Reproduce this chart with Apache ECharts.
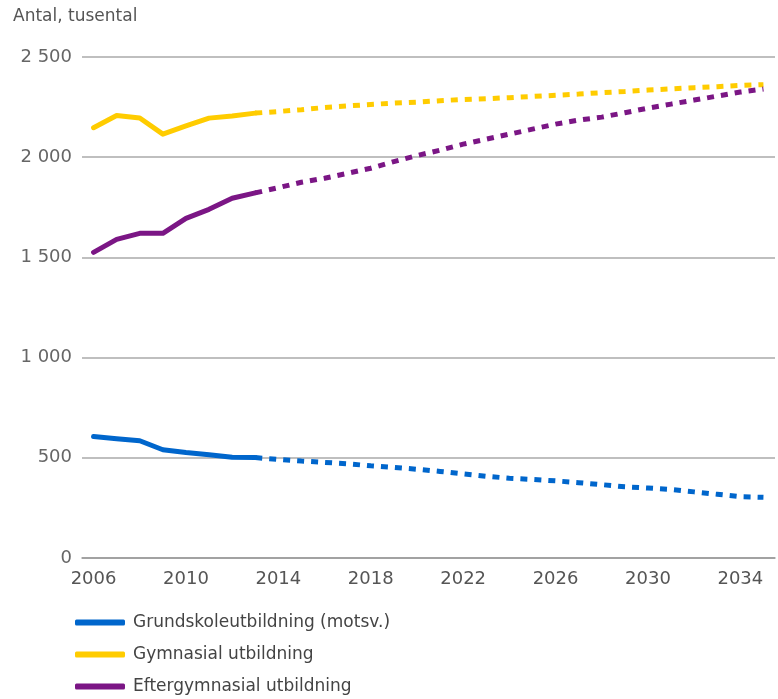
<!DOCTYPE html>
<html>
<head>
<meta charset="utf-8">
<script src="https://cdn.jsdelivr.net/npm/echarts@6/dist/echarts.min.js"></script>
<style>
html,body{margin:0;padding:0;background:#fff;}
#chart{width:778px;height:699px;}
</style>
</head>
<body>
<div id="chart"></div>
<script>
var years = [];
for (var y = 2006; y <= 2035; y++) { years.push(String(y)); }

var seriesNames = ['Grundskoleutbildning (motsv.)', 'Gymnasial utbildning', 'Eftergymnasial utbildning'];
var yTicks = [0, 500, 1000, 1500, 2000, 2500];

// Outcome 2006-2013
var grundUtfall = [606, 595, 585, 540, 526, 515, 503, 501];
var gymUtfall = [2147, 2208, 2196, 2115, 2156, 2195, 2206, 2220];
var efterUtfall = [1525, 1590, 1620, 1620, 1695, 1740, 1795, 1822];

// Projection 2013-2035
var grundPrognos = [501, 492, 484, 477, 470, 460, 452, 443, 432, 420, 408, 398, 392, 385, 376, 366, 355, 349, 342, 330, 318, 306, 303];
var gymPrognos = [2220, 2228, 2237, 2248, 2256, 2263, 2270, 2275, 2282, 2288, 2292, 2297, 2303, 2309, 2315, 2322, 2328, 2335, 2341, 2347, 2352, 2358, 2362];
var efterPrognos = [1822, 1848, 1875, 1895, 1920, 1945, 1978, 2008, 2035, 2065, 2090, 2115, 2140, 2165, 2185, 2200, 2222, 2245, 2265, 2285, 2305, 2325, 2340];

var colors = ['#0066CC', '#FFCC00', '#7B1685'];

function outcome(arr) {
  var out = [];
  for (var i = 0; i < years.length; i++) out.push(i < arr.length ? arr[i] : null);
  return out;
}
function projection(arr) {
  var out = [];
  var start = years.length - arr.length;
  for (var i = 0; i < years.length; i++) out.push(i >= start ? arr[i - start] : null);
  return out;
}
function fmt(v) {
  var s = String(v);
  return s.length > 3 ? s.slice(0, s.length - 3) + ' ' + s.slice(s.length - 3) : s;
}

var solidData = [grundUtfall, gymUtfall, efterUtfall];
var dotData = [grundPrognos, gymPrognos, efterPrognos];
var series = [];
for (var k = 0; k < 3; k++) {
  series.push({
    name: seriesNames[k], type: 'line', data: outcome(solidData[k]),
    showSymbol: false, symbol: 'none', color: colors[k],
    lineStyle: { width: 5, color: colors[k], cap: 'round', join: 'round' },
    z: 3
  });
  series.push({
    name: seriesNames[k] + ' prognos', type: 'line', data: projection(dotData[k]),
    showSymbol: false, symbol: 'none', color: colors[k],
    lineStyle: { width: 5, color: colors[k], type: [7, 7] },
    z: 2
  });
}

var chart = echarts.init(document.getElementById('chart'), null, { renderer: 'canvas' });
chart.setOption({
  animation: false,
  backgroundColor: '#fff',
  textStyle: { fontFamily: 'DejaVu Sans' },
  title: {
    text: 'Antal, tusental', left: 8, top: 3,
    textStyle: { fontSize: 17, fontWeight: 'normal', color: '#555', fontFamily: 'DejaVu Sans' }
  },
  grid: { left: 82, right: 3, top: 57, bottom: 141, containLabel: false },
  legend: {
    data: seriesNames,
    orient: 'vertical', left: 75, top: 614, padding: 0,
    icon: 'roundRect', itemWidth: 50, itemHeight: 6, itemGap: 15,
    textStyle: { fontSize: 17, color: '#444', fontFamily: 'DejaVu Sans', padding: [0, 0, 0, 3] }
  },
  xAxis: {
    type: 'category', data: years, boundaryGap: true,
    axisLine: { show: true, lineStyle: { color: '#999', width: 1.5 } },
    axisTick: { show: false },
    axisLabel: { interval: 3, margin: 12, fontSize: 18, color: '#555', fontFamily: 'DejaVu Sans' },
    splitLine: { show: false }
  },
  yAxis: {
    type: 'value', min: yTicks[0], max: yTicks[yTicks.length - 1], interval: 500,
    axisLine: { show: false }, axisTick: { show: false },
    axisLabel: { margin: 10, fontSize: 18, color: '#666', fontFamily: 'DejaVu Sans', formatter: fmt },
    splitLine: { show: true, lineStyle: { color: '#aaa', width: 1.5 } }
  },
  series: series
});
</script>
</body>
</html>
